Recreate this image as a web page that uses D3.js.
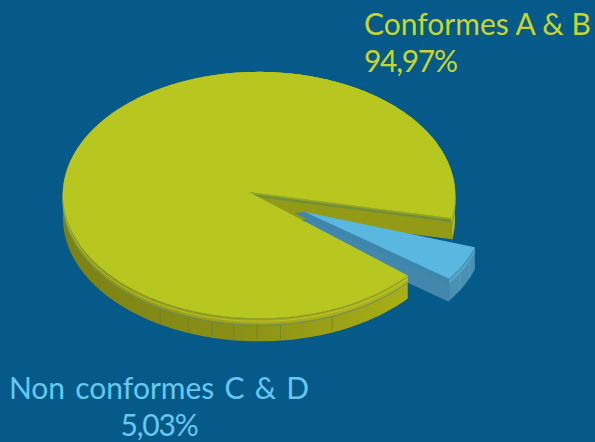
<!DOCTYPE html>
<html>
<head>
<meta charset="utf-8">
<script src="https://cdn.jsdelivr.net/npm/d3@7"></script>
<style>
  html, body { margin: 0; padding: 0; background: #065a8a; }
  svg { display: block; }
  text { font-family: Lato, "Open Sans", sans-serif; font-size: 30px; }
</style>
</head>
<body>
<svg id="chart" width="595" height="442"></svg>
<script>
'use strict';

// chart values
const categories = ['Conformes A & B', 'Non conformes C & D'];
const shares = [94.97, 5.03];
const shareLabels = ['94,97%', '5,03%'];

// seams on the moulded rim, in degrees clockwise from the back of the disc
const yellowSeams = [207, 198, 190.6, 184.4, 177.7, 171, 156];
const blueSeams = [113, 120];

const width = 595;
const height = 442;
const rad = Math.PI / 180;

// perspective of the disc
const view = { x: 249, y: 192, rx: 195.5, ry: 123, tiltX: 0.051, tiltY: 0.025 };
const depth = 23;
const cutDepth = 21;
const rimDepth = 6;

const svg = d3.select('#chart');
svg.append('rect').attr('width', width).attr('height', height).attr('fill', '#065a8a');

const defs = svg.append('defs');

function gradient(id, stops) {
  const g = defs.append('linearGradient').attr('id', id)
    .attr('gradientUnits', 'userSpaceOnUse')
    .attr('x1', 63).attr('x2', 455).attr('y1', 0).attr('y2', 0);
  stops.forEach(function(s) {
    g.append('stop').attr('offset', s[0]).attr('stop-color', s[1]);
  });
}
gradient('yellow-wall', [[0, '#7b8212'], [0.45, '#8a9016'], [0.8, '#a3a915'], [1, '#b4b81c']]);
gradient('yellow-rim', [[0, '#8f9614'], [0.5, '#a4a81a'], [1, '#b4ba1c']]);

// the blue slice is pulled out of the disc and a little smaller
const yellowOpts = { dx: 0, dy: 0, r: 1 };
const blueOpts = { dx: 56, dy: 20, r: 0.87 };

function project(angle, z, o) {
  const u = o.r * Math.sin(angle);
  const v = -o.r * Math.cos(angle);
  const w = 1 - view.tiltX * u - view.tiltY * v;
  return [view.x + o.dx + view.rx * u / w, view.y + o.dy + view.ry * v / w + z];
}

function apex(z, o) {
  return [view.x + o.dx, view.y + o.dy + z];
}

const line = d3.line();

function arcPoints(a0, a1, z, o) {
  const n = Math.max(2, Math.ceil((a1 - a0) / (1 * rad)));
  return d3.range(n + 1).map(function(i) {
    return project(a0 + (a1 - a0) * i / n, z, o);
  });
}

function band(a0, a1, z0, z1, o) {
  return line(arcPoints(a0, a1, z0, o).concat(arcPoints(a0, a1, z1, o).reverse())) + 'Z';
}

function cutWall(a, z0, z1, o) {
  return line([apex(z0, o), project(a, z0, o), project(a, z1, o), apex(z1, o)]) + 'Z';
}

function topFace(a0, a1, z, o) {
  return line([apex(z, o)].concat(arcPoints(a0, a1, z, o))) + 'Z';
}

function add(d, fill, stroke, sw) {
  return svg.append('path').attr('d', d).attr('fill', fill)
    .attr('stroke', stroke || 'none').attr('stroke-width', sw || 0);
}

function edge(a0, a1, z, o, stroke, sw) {
  return svg.append('path').attr('d', line(arcPoints(a0, a1, z, o)))
    .attr('fill', 'none').attr('stroke', stroke).attr('stroke-width', sw);
}

const pie = d3.pie().sort(null).value(function(d) { return d; })
  .startAngle(126.4 * rad).endAngle((126.4 + 360) * rad);
const slices = pie(shares);
const yellow = slices[0];
const blue = slices[1];

// the gap in the yellow disc is wider than the blue slice
const yStart = yellow.startAngle + 3.5 * rad;
const yEnd = yellow.endAngle - 6.7 * rad;
const bStart = blue.startAngle - 360 * rad;
const bEnd = blue.endAngle - 360 * rad;

// wall on the upper cut of the yellow disc
add(cutWall(yEnd, 0, cutDepth, yellowOpts), '#939a16');
add(cutWall(yEnd, 0, 4, yellowOpts), '#6f8f3a');
add(cutWall(yEnd, 0, 1.5, yellowOpts), '#9aa31c');

// blue slice
add(cutWall(bEnd, 0, depth, blueOpts), '#4388ac');
add(band(bStart, bEnd, 0, depth - 1, blueOpts), '#4a90b3');
add(band(bStart, bEnd, 0, rimDepth - 1, blueOpts), '#55a5cc');
blueSeams.forEach(function(a) {
  const p = project(a * rad, rimDepth, blueOpts);
  const q = project(a * rad, depth - 1, blueOpts);
  svg.append('line').attr('x1', p[0]).attr('y1', p[1]).attr('x2', q[0]).attr('y2', q[1])
    .attr('stroke', '#5d9fc0').attr('stroke-width', 0.8);
});
add(line([[apex(0, blueOpts)[0] - 11, apex(0, blueOpts)[1] + 1],
  apex(0, blueOpts), project(bEnd, 0, blueOpts), project(bEnd, 7, blueOpts)]) + 'Z', '#3f86ad');
add(topFace(bStart, bEnd, 0, blueOpts), '#5ab7df');
edge(bStart, bEnd, 1, blueOpts, '#3f8ab0', 1);

// yellow outer wall, rim and seams
add(band(yStart, yEnd, 0, depth, yellowOpts), 'url(#yellow-wall)');
yellowSeams.forEach(function(a) {
  const p = project(a * rad, rimDepth + 2, yellowOpts);
  const q = project(a * rad, depth - 2, yellowOpts);
  svg.append('line').attr('x1', p[0]).attr('y1', p[1]).attr('x2', q[0]).attr('y2', q[1])
    .attr('stroke', '#6f7f30').attr('stroke-width', 0.8);
});
add(band(yStart, yEnd, 0, rimDepth, yellowOpts), 'url(#yellow-rim)');
edge(yStart, yEnd, rimDepth + 1, yellowOpts, '#5f8f70', 0.9);
edge(yStart, yEnd, 3, yellowOpts, '#c9cc30', 0.7);
edge(yStart, yEnd, 0.8, yellowOpts, '#7f9530', 0.8);

// top of the disc
add(topFace(yStart, yEnd, 0, yellowOpts), '#b8c71f');

// labels
const labels = svg.append('g');
labels.append('text').attr('x', 364).attr('y', 35).attr('fill', '#c8d62b').text(categories[0]);
labels.append('text').attr('x', 364).attr('y', 72).attr('letter-spacing', -1.3)
  .attr('fill', '#c8d62b').text(shareLabels[0]);
labels.append('text').attr('x', 159).attr('y', 399).attr('text-anchor', 'middle')
  .attr('word-spacing', 2.5).attr('fill', '#65c8ef').text(categories[1]);
labels.append('text').attr('x', 159).attr('y', 436).attr('text-anchor', 'middle')
  .attr('letter-spacing', -1.2).attr('fill', '#65c8ef').text(shareLabels[1]);
</script>
</body>
</html>
